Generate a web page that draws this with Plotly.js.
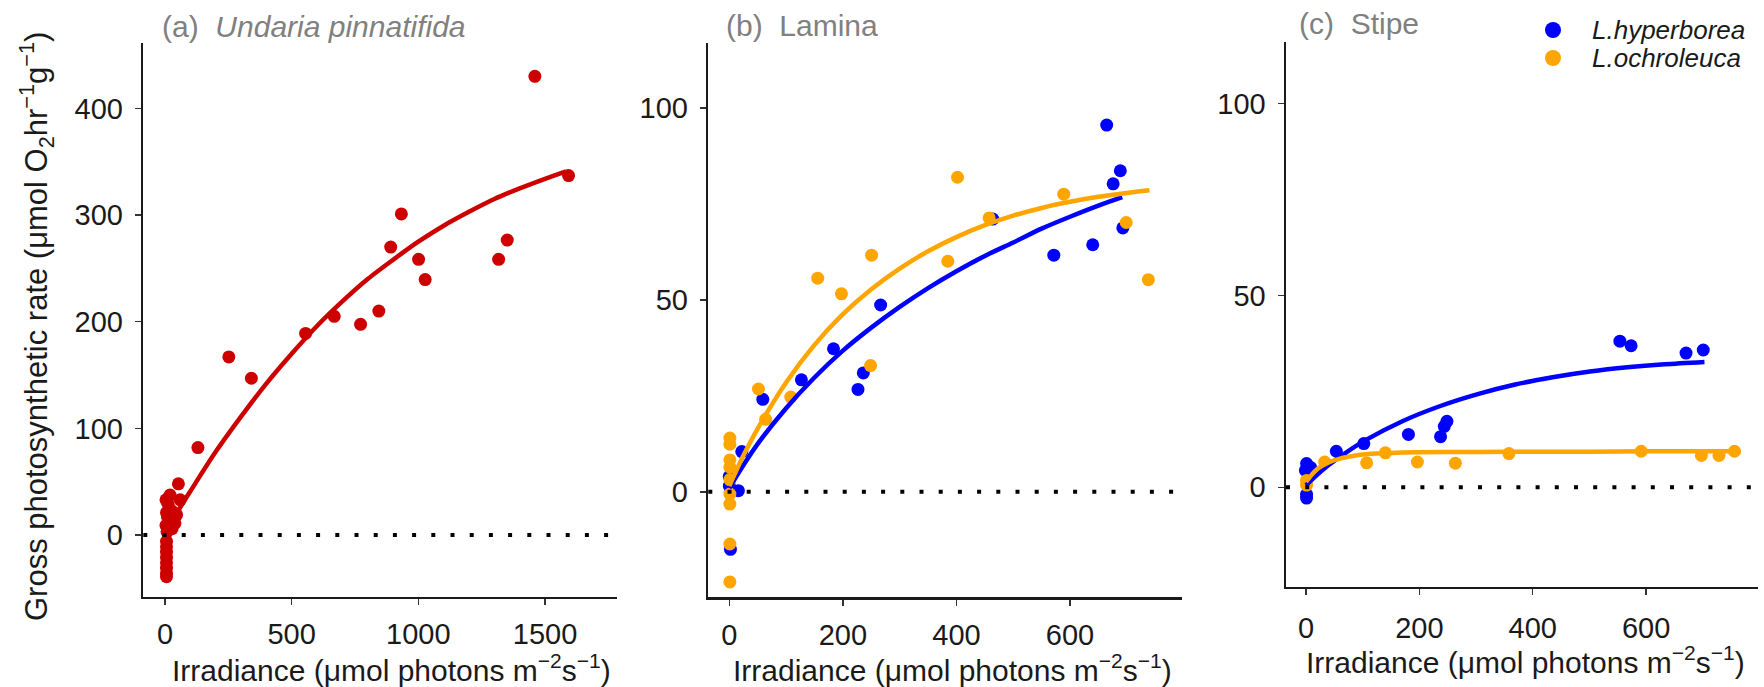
<!DOCTYPE html>
<html>
<head>
<meta charset="utf-8">
<script src="https://cdn.plot.ly/plotly-3.0.1.min.js"></script>
<style>html,body{margin:0;padding:0;background:#fff;}</style>
</head>
<body>
<div id="chart" style="width:1764px;height:687px;"></div>
<script>
// ---------------- DATA ----------------
// Panel (a) Undaria pinnatifida
const undariaX = [1460,1593,933,891,1001,1027,1317,1351,844,772,668,555,341,252,130,53,60,
  4,20,12,17,6,10,20,4,14,8,46,39,28,30,
  6,6,6,6,6,6,6,6];
const undariaY = [430,337,301,270,258.5,239.5,258.5,276.5,210,197.5,205,189,147,167,82,48,33,
  33,37.5,29,25,21,17,13,9,6,3,19,11,6,22,
  -6,-11,-16,-21,-26,-31,-36,-39];
const undariaFitX = [0,50,100,200,300,400,500,600,700,800,900,1000,1100,1200,1300,1400,1500,1583];
const undariaFitY = [2,22,41,78,111,142,170,196,219,240,258,275,290,303,315,325,334,341];

// Panel (b) Lamina
const laminaHypX = [664.6,688.6,676,693,640,571.5,464,266.5,183.5,236,226.6,127,59,22,16,2,0,0];
const laminaHypY = [95.6,83.7,80.3,68.8,64.4,61.7,71.1,48.7,37.3,31,26.7,29.2,24.1,10.5,0.3,-15,4,1.5];
const laminaOchX = [401.9,589,457.6,699,738,384.8,250.6,155.7,197.5,248.7,51.3,108.2,64,1,1,1,1,1,1,1,1,1];
const laminaOchY = [82,77.6,71.4,70.2,55.3,60.1,61.7,55.7,51.6,32.9,26.8,24.7,18.9,14,12.4,8.3,6.4,3.2,-0.6,-3.2,-13.6,-23.5];
const laminaHypFitX = [0,25,50,100,150,200,250,300,350,400,450,500,550,600,650,692];
const laminaHypFitY = [1,7,12.5,21.8,29.8,36.8,42.8,48.2,53.1,57.5,61.5,65,68.6,71.7,74.6,76.8];
const laminaOchFitX = [0,25,50,100,150,200,250,300,350,400,450,500,550,600,650,700,740];
const laminaOchFitY = [1.5,9.5,16.5,28.5,38.3,46.3,52.8,58.2,62.7,66.4,69.5,72,74,75.6,76.9,77.9,78.6];

// Panel (c) Stipe
const stipeHypX = [553.8,573.6,670.5,700.9,248.6,244,237.4,180.7,102,53.5,1,-1,8,1,1];
const stipeHypY = [38.1,36.9,35,35.8,17.2,15.9,13.2,13.8,11.4,9.4,6.2,4.4,5.2,-2.8,-1.8];
const stipeOchX = [756,728.6,697.6,591.4,358,263.5,196.5,140,107,33,1,1];
const stipeOchY = [9.4,8.3,8.3,9.4,8.8,6.3,6.6,9.0,6.4,6.6,1.8,0.6];
const stipeHypFitX = [0,20,40,70,105,171,237,303,369,435,501,567,633,703];
const stipeHypFitY = [0.5,3.3,5.8,9,12.3,17.3,21.2,24.3,26.8,28.7,30.2,31.3,32.1,32.7];
const stipeOchFitX = [0,10,20,40,60,80,105,140,171,250,303,400,500,600,700,756];
const stipeOchFitY = [1.4,3.3,4.8,6.5,7.5,8.1,8.6,8.9,9.1,9.2,9.2,9.3,9.3,9.4,9.4,9.4];

// Tick values
const ticksAX = [0,500,1000,1500];
const ticksAY = [0,100,200,300,400];
const ticksBX = [0,200,400,600];
const ticksBY = [0,50,100];
const ticksCX = [0,200,400,600];
const ticksCY = [0,50,100];

const speciesNames = ["L.hyperborea","L.ochroleuca"];
const panelTitles = ["(a)\u00a0 <i>Undaria pinnatifida</i>","(b)\u00a0 Lamina","(c)\u00a0 Stipe"];
const xTitle = "Irradiance (\u03bcmol photons m<sup>\u22122</sup>s<sup>\u22121</sup>)";
const yTitle = "Gross photosynthetic rate (\u03bcmol O<sub>2</sub>hr<sup>\u22121</sup>g<sup>\u22121</sup>)";

// ---------------- STYLE ----------------
const W = 1764, H = 687;
const PX = p => p / W;
const PY = p => 1 - p / H;
const RED = "#CD0000", BLUE = "#0000FF", ORANGE = "#FFA500";
const FONT = "Liberation Sans, Arial, Helvetica, sans-serif";

function pts(x, y, color, xa, ya) {
  return {x: x, y: y, xaxis: xa, yaxis: ya, type: "scatter", mode: "markers",
    marker: {color: color, size: 13, line: {width: 0}}, showlegend: false, hoverinfo: "skip"};
}
function fit(x, y, color, xa, ya) {
  return {x: x, y: y, xaxis: xa, yaxis: ya, type: "scatter", mode: "lines",
    line: {color: color, width: 4.5, shape: "spline", smoothing: 0.8}, showlegend: false, hoverinfo: "skip"};
}

const traces = [
  pts(undariaX, undariaY, RED, "x", "y"),
  fit(undariaFitX, undariaFitY, RED, "x", "y"),
  pts(laminaHypX, laminaHypY, BLUE, "x2", "y2"),
  pts(laminaOchX, laminaOchY, ORANGE, "x2", "y2"),
  fit(laminaHypFitX, laminaHypFitY, BLUE, "x2", "y2"),
  fit(laminaOchFitX, laminaOchFitY, ORANGE, "x2", "y2"),
  pts(stipeHypX, stipeHypY, BLUE, "x3", "y3"),
  pts(stipeOchX, stipeOchY, ORANGE, "x3", "y3"),
  fit(stipeHypFitX, stipeHypFitY, BLUE, "x3", "y3"),
  fit(stipeOchFitX, stipeOchFitY, ORANGE, "x3", "y3")
];

function axis(extra) {
  return Object.assign({
    showline: true, linecolor: "#1a1a1a", linewidth: 2.5, mirror: false,
    ticks: "outside", ticklen: 6, tickwidth: 1.5, tickcolor: "#333",
    showgrid: false, zeroline: false, fixedrange: true,
    tickfont: {family: FONT, size: 29, color: "#1a1a1a"}
  }, extra);
}

const layout = {
  width: W, height: H,
  margin: {l: 0, r: 0, t: 0, b: 0},
  paper_bgcolor: "#fff", plot_bgcolor: "#fff",
  font: {family: FONT},
  showlegend: false,
  xaxis: axis({domain: [PX(143.3), PX(616.7)], range: [-85.6, 1783], tickvals: ticksAX, anchor: "y", ticklabelstandoff: 4}),
  yaxis: axis({domain: [PY(596.7), PY(43.3)], range: [-57.8, 461], tickvals: ticksAY, anchor: "x", ticklabelstandoff: 6}),
  xaxis2: axis({domain: [PX(708.3), PX(1181.7)], range: [-37, 796.7], tickvals: ticksBX, anchor: "y2", ticklabelstandoff: 4}),
  yaxis2: axis({domain: [PY(597.3), PY(43)], range: [-27.5, 117], tickvals: ticksBY, anchor: "x2", ticklabelstandoff: 6}),
  xaxis3: axis({domain: [PX(1286), PX(1758.3)], range: [-35.3, 798], tickvals: ticksCX, anchor: "y3", ticklabelstandoff: 8}),
  yaxis3: axis({domain: [PY(586.7), PY(42.3)], range: [-25.9, 116], tickvals: ticksCY, anchor: "x3", ticklabelstandoff: 6}),
  shapes: [],
  annotations: []
};

// dotted zero lines
[["x","y"],["x2","y2"],["x3","y3"]].forEach(([xa, ya]) => {
  layout.shapes.push({type: "line", xref: xa + " domain", x0: 0, x1: 1, yref: ya, y0: 0, y1: 0,
    line: {color: "#000", width: 4, dash: "4px,15.2px"}, layer: "above"});
});

// legend symbols
const legendColors = [BLUE, ORANGE];
const legendY = [30, 58];
legendColors.forEach((c, i) => {
  layout.shapes.push({type: "circle", xref: "paper", yref: "paper",
    x0: PX(1553 - 8), x1: PX(1553 + 8), y0: PY(legendY[i] + 8), y1: PY(legendY[i] - 8),
    fillcolor: c, line: {width: 0}});
  layout.annotations.push({xref: "paper", yref: "paper", x: PX(1590), y: PY(legendY[i]),
    xanchor: "left", yanchor: "middle", showarrow: false, text: "<i>" + speciesNames[i] + "</i>",
    font: {family: FONT, size: 26, color: "#1a1a1a"}});
});

// panel titles
const titleX = [160, 724, 1297];
const titleY = [27, 25, 23];
panelTitles.forEach((t, i) => {
  layout.annotations.push({xref: "paper", yref: "paper", x: PX(titleX[i]), y: PY(titleY[i]),
    xanchor: "left", yanchor: "middle", showarrow: false, text: t,
    font: {family: FONT, size: 30, color: "#808080"}});
});

// x axis titles
const xtX = [391, 952, 1525];
const xtY = [668, 668, 660];
xtX.forEach((xx, i) => {
  layout.annotations.push({xref: "paper", yref: "paper", x: PX(xx), y: PY(xtY[i]),
    xanchor: "center", yanchor: "middle", showarrow: false, text: xTitle,
    font: {family: FONT, size: 30, color: "#1a1a1a"}});
});

// y axis title
layout.annotations.push({xref: "paper", yref: "paper", x: PX(36), y: PY(327),
  xanchor: "center", yanchor: "middle", showarrow: false, text: yTitle, textangle: -90,
  font: {family: FONT, size: 31, color: "#1a1a1a"}});

Plotly.newPlot("chart", traces, layout, {displayModeBar: false, staticPlot: true});
</script>
</body>
</html>
